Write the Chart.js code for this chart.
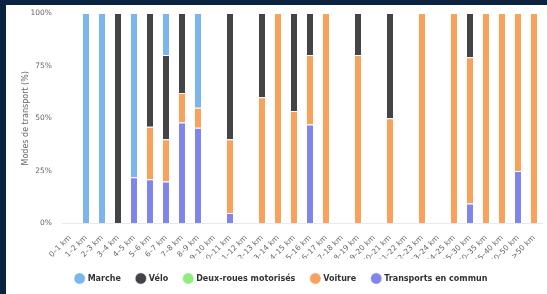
<!DOCTYPE html>
<html>
<head>
<meta charset="utf-8">
<script src="https://cdn.jsdelivr.net/npm/chart.js@4/dist/chart.umd.min.js"></script>
<style>
  html, body { margin: 0; padding: 0; }
  body { width: 547px; height: 294px; background: #0b2240; position: relative; overflow: hidden; }
  #panel { position: absolute; left: 6px; top: 5px; width: 541px; height: 289px; background: #ffffff; overflow: hidden; }
  canvas { display: block; }
</style>
</head>
<body>
<div id="panel"><canvas id="c" width="541" height="289"></canvas></div>
<script>
const categories = ["0–1 km","1–2 km","2–3 km","3–4 km","4–5 km","5–6 km","6–7 km","7–8 km","8–9 km","9–10 km",
  "10–11 km","11–12 km","12–13 km","13–14 km","14–15 km","15–16 km","16–17 km","17–18 km","18–19 km","19–20 km",
  "20–21 km","21–22 km","22–23 km","23–24 km","24–25 km","25–30 km","30–35 km","35–40 km","40–50 km",">50 km"];

const marche     = [0,100,100,0,78,0,20,0,45,0, 0,0,0,0,0,0,0,0,0,0, 0,0,0,0,0,0,0,0,0,0];
const velo       = [0,0,0,100,0,54,40,38,0,0, 60,0,40,0,46.5,20,0,0,20,0, 50,0,0,0,0,21,0,0,0,0];
const deuxRoues  = [0,0,0,0,0,0,0,0,0,0, 0,0,0,0,0,0,0,0,0,0, 0,0,0,0,0,0,0,0,0,0];
const voiture    = [0,0,0,0,0,25,20,14,9.5,0, 35,0,60,100,53.5,33,100,0,80,0, 50,0,100,0,100,69.5,100,100,75,100];
const transports = [0,0,0,0,22,21,20,48,45.5,0, 5,0,0,0,0,47,0,0,0,0, 0,0,0,0,0,9.5,0,0,25,0];

const yTicks = [0,25,50,75,100];

const ds = (label, data, color) => ({
  label, data, backgroundColor: color, borderColor: 'rgba(255,255,255,0.55)', borderWidth: 1,
  borderSkipped: 'bottom', categoryPercentage: 1.0, barPercentage: 0.5, stack: 's'
});

new Chart(document.getElementById('c'), {
  type: 'bar',
  data: {
    labels: categories,
    datasets: [
      ds('Transports en commun', transports, '#8085e9'),
      ds('Voiture', voiture, '#f7a35c'),
      ds('Deux-roues motorisés', deuxRoues, '#90ed7d'),
      ds('Vélo', velo, '#434348'),
      ds('Marche', marche, '#7cb5ec')
    ]
  },
  options: {
    responsive: false,
    animation: false,
    layout: { padding: { left: 15, right: 5, top: 8, bottom: 1.5 } },
    plugins: {
      tooltip: { enabled: false },
      legend: {
        position: 'bottom',
        reverse: true,
        labels: {
          usePointStyle: true, pointStyle: 'circle', boxWidth: 8, boxHeight: 8,
          padding: 16, color: '#333333',
          font: { family: 'DejaVu Sans', size: 8, weight: 'bold' }
        }
      }
    },
    scales: {
      x: {
        stacked: true,
        grid: { display: false },
        border: { display: true, color: '#e6e9f0', width: 1 },
        afterFit: (axis) => { axis.height = 35; },
        ticks: {
          color: '#666666', minRotation: 45, maxRotation: 45, autoSkip: false, padding: 2,
          font: { family: 'DejaVu Sans', size: 7.5 }
        }
      },
      y: {
        stacked: true, min: 0, max: 100,
        afterBuildTicks: (axis) => { axis.ticks = yTicks.map(v => ({ value: v })); },
        afterFit: (axis) => { axis.width = 41; },
        grid: { display: true, drawOnChartArea: false, drawTicks: true, tickLength: 10, tickColor: 'rgba(0,0,0,0)' },
        border: { display: false },
        title: { display: true, text: 'Modes de transport (%)', color: '#666666',
                 font: { family: 'DejaVu Sans', size: 8 }, padding: 0 },
        ticks: { color: '#666666', padding: 0, callback: v => v + '%',
                 font: { family: 'DejaVu Sans', size: 7.5 } }
      }
    }
  }
});
</script>
</body>
</html>
